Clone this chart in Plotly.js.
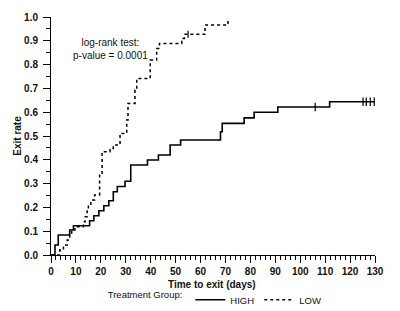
<!DOCTYPE html>
<html>
<head>
<meta charset="utf-8">
<script src="https://cdn.plot.ly/plotly-3.0.1.min.js"></script>
<style>
  html, body { margin: 0; padding: 0; background: #fff; }
  #chart { width: 400px; height: 311px; }
</style>
</head>
<body>
<div id="chart"></div>
<script>
// Kaplan-Meier style cumulative exit rate by treatment group
const highTime = [0, 1.6, 2.9, 7.5, 9, 15.5, 17.2, 19.2, 21.2, 23.2, 25, 26.6, 29.7, 32, 38.7, 43.1, 47.8, 52, 68, 68.7, 77.5, 81.5, 91, 111.8, 130];
const highRate = [0, 0.042, 0.084, 0.105, 0.123, 0.144, 0.165, 0.186, 0.207, 0.228, 0.266, 0.288, 0.31, 0.378, 0.399, 0.42, 0.462, 0.483, 0.518, 0.553, 0.576, 0.6, 0.622, 0.644, 0.644];
const highCensorTime = [106, 125.2, 126.5, 128.1, 129.7];
const highCensorRate = [0.622, 0.644, 0.644, 0.644, 0.644];

const lowTime = [0, 3.5, 5, 6.5, 7.5, 8.3, 9.6, 13, 13.7, 14.5, 15, 16, 17.5, 19.5, 20.5, 23.7, 25, 27.7, 30.4, 30.9, 33.7, 34.4, 39.8, 42.4, 43.5, 52.5, 53.5, 61.8, 71];
const lowRate = [0, 0.021, 0.042, 0.063, 0.084, 0.105, 0.119, 0.14, 0.161, 0.19, 0.21, 0.231, 0.252, 0.343, 0.434, 0.448, 0.462, 0.511, 0.567, 0.637, 0.693, 0.742, 0.819, 0.868, 0.889, 0.91, 0.927, 0.966, 0.99];
const lowCensorTime = [55];
const lowCensorRate = [0.927];

const groupNames = ['HIGH', 'LOW'];
const legendTitle = 'Treatment Group:';
const xTitle = 'Time to exit (days)';
const yTitle = 'Exit rate';
const testLabel = 'log-rank test:<br>p-value = 0.0001';

const FONT = '"Liberation Sans", Arial, sans-serif';

const traces = [
  {
    x: highTime, y: highRate, name: groupNames[0],
    mode: 'lines', line: { shape: 'hv', color: '#000', width: 1.6 }
  },
  {
    x: lowTime, y: lowRate, name: groupNames[1],
    mode: 'lines', line: { shape: 'hv', color: '#000', width: 1.5, dash: 'dot' }
  },
  {
    x: highCensorTime, y: highCensorRate, mode: 'markers', showlegend: false, hoverinfo: 'skip',
    marker: { symbol: 'line-ns', size: 6, color: '#000', line: { color: '#000', width: 1.2 } }
  },
  {
    x: lowCensorTime, y: lowCensorRate, mode: 'markers', showlegend: false, hoverinfo: 'skip',
    marker: { symbol: 'line-ns', size: 5, color: '#000', line: { color: '#000', width: 1.2 } }
  }
];

const axisCommon = {
  showline: true, linecolor: '#000', linewidth: 1,
  ticks: 'outside', ticklen: 7, tickwidth: 1, tickcolor: '#000',
  showgrid: false, zeroline: false, fixedrange: true,
  tickfont: { family: FONT, size: 10, color: '#111', weight: 'bold' }
};

const layout = {
  width: 400, height: 311,
  margin: { l: 51, r: 25, t: 17, b: 56 },
  paper_bgcolor: '#fff', plot_bgcolor: '#fff',
  font: { family: FONT, color: '#111' },
  showlegend: true,
  legend: {
    orientation: 'h', x: 0.51, xanchor: 'center',
    yref: 'container', y: 0.036, yanchor: 'middle',
    font: { family: FONT, size: 9.5, color: '#111' },
    title: { text: legendTitle, side: 'left', font: { family: FONT, size: 9.5, color: '#111' } },
    itemwidth: 30, tracegroupgap: 0
  },
  xaxis: Object.assign({}, axisCommon, {
    range: [0, 130], dtick: 10, tick0: 0, automargin: false,
    minor: { dtick: 2, ticks: 'outside', ticklen: 4, tickcolor: '#000' }
  }),
  yaxis: Object.assign({}, axisCommon, {
    range: [0, 1], dtick: 0.1, tick0: 0, tickformat: '.1f', ticklabelstandoff: 3, automargin: true,
    minor: { dtick: 0.05, ticks: 'outside', ticklen: 4, tickcolor: '#000' },
    title: { text: yTitle, standoff: 0, font: { family: FONT, size: 10, color: '#111', weight: 'bold' } }
  }),
  annotations: [
    {
      xref: 'paper', yref: 'paper', x: 0.185, y: 0.865, xanchor: 'center', yanchor: 'middle',
      text: testLabel, showarrow: false, align: 'center',
      font: { family: FONT, size: 10, color: '#111' }
    },
    {
      // x-axis title, set just under the tick labels
      xref: 'paper', yref: 'paper', x: 0.497, y: -0.126, xanchor: 'center', yanchor: 'middle',
      text: xTitle, showarrow: false,
      font: { family: FONT, size: 10, color: '#111', weight: 'bold' }
    }
  ]
};

Plotly.newPlot('chart', traces, layout, { displayModeBar: false, staticPlot: true });
</script>
</body>
</html>
